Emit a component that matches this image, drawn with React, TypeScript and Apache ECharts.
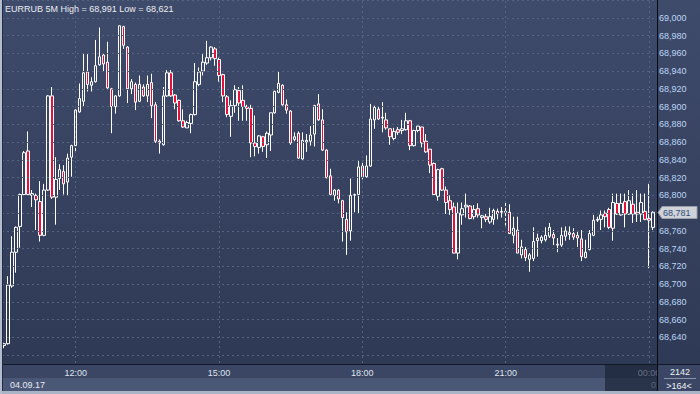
import React, { useEffect, useRef } from 'react';
import * as echarts from 'echarts';

const titleText = 'EURRUB 5M High = 68,991 Low = 68,621';
const dateLabel = '04.09.17';
const nextDateStub = '0';
const barCountLabel = '2142';
const visibleLabel = '>164<';
const startHour = 10;
const startMinute = 30;
const barMinutes = 5;
const hourTicks = ['12:00', '15:00', '18:00', '21:00', '00:00'];
const yMin = 68.6;
const yMax = 69.02;
const yStep = 0.02;

const opens = [
  68.631, 68.633, 68.698, 68.736, 68.765, 68.801, 68.850, 68.800, 68.800, 68.793,
  68.755, 68.806, 68.912, 68.798, 68.819, 68.827, 68.815, 68.843, 68.856, 68.894,
  68.906, 68.939, 68.924, 68.928, 68.947, 68.958, 68.950, 68.920, 68.900, 68.912,
  68.990, 68.967, 68.920, 68.925, 68.906, 68.922, 68.912, 68.927, 68.902, 68.861,
  68.857, 68.912, 68.938, 68.913, 68.907, 68.884, 68.876, 68.881, 68.891, 68.925,
  68.940, 68.949, 68.955, 68.965, 68.953, 68.936, 68.911, 68.889, 68.901, 68.918,
  68.907, 68.900, 68.898, 68.859, 68.854, 68.866, 68.857, 68.868, 68.893, 68.916,
  68.924, 68.902, 68.895, 68.863, 68.870, 68.841, 68.860, 68.861, 68.869, 68.903,
  68.885, 68.851, 68.822, 68.800, 68.806, 68.794, 68.773, 68.760, 68.800, 68.801,
  68.833, 68.821, 68.833, 68.885, 68.897, 68.887, 68.885, 68.875, 68.864, 68.874,
  68.873, 68.874, 68.884, 68.856, 68.873, 68.877, 68.861, 68.852, 68.836, 68.799,
  68.830, 68.806, 68.794, 68.787, 68.735, 68.778, 68.787, 68.788, 68.776, 68.785,
  68.775, 68.776, 68.770, 68.773, 68.782, 68.781, 68.782, 68.781, 68.755, 68.761,
  68.733, 68.739, 68.728, 68.729, 68.749, 68.749, 68.750, 68.754, 68.756, 68.745,
  68.744, 68.754, 68.756, 68.757, 68.755, 68.751, 68.730, 68.739, 68.755, 68.772,
  68.773, 68.780, 68.784, 68.763, 68.791, 68.778, 68.793, 68.779, 68.790, 68.781,
  68.779, 68.782, 68.774, 68.764,
];
const closes = [
  68.633, 68.699, 68.736, 68.764, 68.801, 68.848, 68.801, 68.802, 68.795, 68.755,
  68.806, 68.912, 68.798, 68.818, 68.829, 68.813, 68.842, 68.856, 68.896, 68.909,
  68.938, 68.925, 68.928, 68.946, 68.956, 68.948, 68.921, 68.900, 68.912, 68.991,
  68.969, 68.920, 68.928, 68.905, 68.925, 68.912, 68.925, 68.901, 68.861, 68.859,
  68.912, 68.938, 68.912, 68.904, 68.884, 68.877, 68.882, 68.891, 68.928, 68.939,
  68.950, 68.955, 68.967, 68.954, 68.935, 68.912, 68.891, 68.901, 68.919, 68.904,
  68.900, 68.898, 68.859, 68.855, 68.867, 68.855, 68.870, 68.893, 68.917, 68.926,
  68.902, 68.896, 68.859, 68.866, 68.842, 68.862, 68.862, 68.868, 68.901, 68.885,
  68.851, 68.820, 68.801, 68.806, 68.796, 68.775, 68.759, 68.800, 68.801, 68.832,
  68.821, 68.833, 68.886, 68.899, 68.886, 68.888, 68.876, 68.866, 68.872, 68.871,
  68.875, 68.884, 68.856, 68.873, 68.878, 68.859, 68.849, 68.834, 68.801, 68.829,
  68.806, 68.792, 68.784, 68.735, 68.780, 68.785, 68.789, 68.774, 68.784, 68.778,
  68.777, 68.773, 68.776, 68.783, 68.779, 68.782, 68.781, 68.757, 68.763, 68.735,
  68.742, 68.730, 68.733, 68.748, 68.752, 68.753, 68.755, 68.764, 68.752, 68.744,
  68.755, 68.760, 68.758, 68.753, 68.752, 68.731, 68.736, 68.757, 68.772, 68.773,
  68.778, 68.776, 68.764, 68.792, 68.779, 68.791, 68.779, 68.794, 68.779, 68.779,
  68.792, 68.773, 68.772, 68.781,
];
const lows = [
  68.628, 68.632, 68.696, 68.713, 68.741, 68.800, 68.800, 68.787, 68.761, 68.748,
  68.754, 68.805, 68.796, 68.767, 68.806, 68.801, 68.800, 68.821, 68.850, 68.893,
  68.900, 68.917, 68.917, 68.927, 68.946, 68.939, 68.920, 68.870, 68.892, 68.911,
  68.965, 68.904, 68.914, 68.896, 68.905, 68.911, 68.905, 68.887, 68.859, 68.847,
  68.856, 68.911, 68.911, 68.897, 68.883, 68.876, 68.876, 68.870, 68.890, 68.923,
  68.935, 68.947, 68.952, 68.946, 68.928, 68.905, 68.888, 68.866, 68.893, 68.884,
  68.884, 68.884, 68.843, 68.844, 68.847, 68.849, 68.842, 68.850, 68.892, 68.915,
  68.901, 68.892, 68.857, 68.861, 68.841, 68.840, 68.849, 68.856, 68.855, 68.884,
  68.850, 68.819, 68.800, 68.794, 68.791, 68.748, 68.733, 68.749, 68.781, 68.779,
  68.818, 68.820, 68.832, 68.875, 68.885, 68.871, 68.874, 68.857, 68.862, 68.868,
  68.869, 68.873, 68.851, 68.855, 68.871, 68.854, 68.848, 68.825, 68.800, 68.794,
  68.805, 68.779, 68.778, 68.735, 68.728, 68.767, 68.775, 68.773, 68.773, 68.775,
  68.763, 68.770, 68.768, 68.767, 68.773, 68.775, 68.766, 68.757, 68.746, 68.735,
  68.729, 68.726, 68.714, 68.726, 68.731, 68.746, 68.748, 68.752, 68.744, 68.736,
  68.742, 68.749, 68.750, 68.750, 68.742, 68.726, 68.729, 68.738, 68.754, 68.770,
  68.761, 68.764, 68.762, 68.749, 68.778, 68.777, 68.764, 68.778, 68.769, 68.770,
  68.770, 68.772, 68.718, 68.761,
];
const highs = [
  68.634, 68.709, 68.754, 68.765, 68.802, 68.850, 68.872, 68.806, 68.802, 68.816,
  68.813, 68.913, 68.922, 68.843, 68.835, 68.834, 68.847, 68.857, 68.897, 68.926,
  68.960, 68.959, 68.933, 68.975, 68.989, 68.959, 68.973, 68.921, 68.913, 68.991,
  68.991, 68.968, 68.931, 68.927, 68.935, 68.925, 68.935, 68.937, 68.905, 68.863,
  68.922, 68.941, 68.941, 68.914, 68.908, 68.897, 68.884, 68.892, 68.949, 68.944,
  68.959, 68.974, 68.968, 68.967, 68.955, 68.937, 68.913, 68.907, 68.924, 68.922,
  68.924, 68.902, 68.902, 68.890, 68.868, 68.867, 68.872, 68.893, 68.918, 68.939,
  68.925, 68.908, 68.896, 68.871, 68.872, 68.871, 68.869, 68.878, 68.902, 68.914,
  68.897, 68.852, 68.830, 68.807, 68.807, 68.795, 68.781, 68.819, 68.802, 68.839,
  68.839, 68.845, 68.903, 68.901, 68.900, 68.905, 68.893, 68.875, 68.876, 68.877,
  68.885, 68.893, 68.885, 68.874, 68.878, 68.877, 68.869, 68.852, 68.837, 68.830,
  68.831, 68.810, 68.800, 68.792, 68.792, 68.792, 68.802, 68.789, 68.789, 68.791,
  68.778, 68.779, 68.786, 68.785, 68.785, 68.787, 68.792, 68.790, 68.776, 68.776,
  68.750, 68.742, 68.735, 68.764, 68.757, 68.755, 68.764, 68.769, 68.761, 68.752,
  68.764, 68.765, 68.765, 68.763, 68.760, 68.761, 68.750, 68.761, 68.778, 68.776,
  68.783, 68.783, 68.786, 68.802, 68.802, 68.802, 68.802, 68.806, 68.802, 68.806,
  68.802, 68.802, 68.813, 68.782,
];

const pad2 = (n: number) => String(n).padStart(2, '0');
const times = opens.map((_, i) => {
  const m = (startHour * 60 + startMinute + i * barMinutes) % 1440;
  return pad2(Math.floor(m / 60)) + ':' + pad2(m % 60);
});

const FONT = 'Arial, "Liberation Sans", sans-serif';
const fmt = (v: number) => v.toFixed(3).replace('.', ',');
const lastClose = closes[closes.length - 1];

export default function App() {
  const ref = useRef<HTMLDivElement>(null);
  useEffect(() => {
    if (!ref.current) return;
    const chart = echarts.init(ref.current, undefined, { renderer: 'svg' });
    const gridColor = '#56637f';
    chart.setOption({
      animation: false,
      grid: { left: 2, right: 45, top: -1, bottom: 21, containLabel: false },
      xAxis: {
        type: 'category',
        data: times,
        boundaryGap: true,
        offset: -9,
        z: 20,
        axisLine: { show: false },
        axisTick: { show: false },
        splitLine: { show: false },
        axisLabel: {
          interval: (_i: number, v: string) => hourTicks.includes(v),
          margin: 4,
          color: '#dfe5ee',
          fontSize: 9,
          fontFamily: FONT,
        },
      },
      yAxis: {
        type: 'value',
        position: 'right',
        min: yMin,
        max: yMax,
        interval: yStep,
        offset: 2,
        z: 5,
        axisLine: { show: false },
        axisTick: { show: false },
        splitLine: { show: true, lineStyle: { color: gridColor, type: [2, 3], width: 1 } },
        axisLabel: {
          showMinLabel: false,
          showMaxLabel: false,
          margin: 2,
          color: '#bcd6f5',
          fontSize: 9,
          fontFamily: FONT,
          textShadowColor: 'rgba(0,0,0,0.85)',
          textShadowOffsetX: 1,
          textShadowOffsetY: 1,
          textShadowBlur: 0,
          formatter: (v: number) =>
            v < 68.63 || Math.abs(v - lastClose) < 0.008 ? '' : fmt(v),
        },
      },
      series: [
        {
          type: 'line',
          data: [],
          z: 1,
          silent: true,
          markLine: {
            symbol: 'none',
            silent: true,
            animation: false,
            label: { show: false },
            lineStyle: { color: gridColor, type: [2, 3], width: 1 },
            data: hourTicks.map((t) => ({ xAxis: t })),
          },
        },
        {
          type: 'candlestick',
          z: 3,
          barWidth: 3,
          data: times.map((_, i) => [opens[i], closes[i], lows[i], highs[i]]),
          itemStyle: {
            color: 'transparent',
            color0: '#e8103a',
            borderColor: '#ffffff',
            borderColor0: '#ffffff',
            borderColorDoji: '#ffffff',
            borderWidth: 1,
          },
        },
      ],
    });

    const py = Math.round(chart.convertToPixel({ yAxisIndex: 0 }, lastClose) as number) + 0.5;

    chart.setOption({
      graphic: [
        { type: 'rect', z: 10, silent: true, shape: { x: 0, y: 364, width: 700, height: 1 }, style: { fill: '#121a2a' } },
        { type: 'rect', z: 10, silent: true, shape: { x: 0, y: 365, width: 657, height: 13 }, style: { fill: '#3a4663' } },
        { type: 'rect', z: 10, silent: true, shape: { x: 0, y: 378, width: 657, height: 13 }, style: { fill: '#4a5776' } },
        { type: 'text', z: 25, silent: true, style: { text: nextDateStub, x: 651, y: 385, fill: '#b9c3d3', font: `9px ${FONT}`, verticalAlign: 'middle' } },
        { type: 'rect', z: 30, silent: true, shape: { x: 605, y: 365, width: 52, height: 26 }, style: { fill: 'rgba(20,28,46,0.6)' } },
        { type: 'text', z: 40, silent: true, style: { text: dateLabel, x: 10, y: 384.5, fill: '#e6ebf2', font: `9px ${FONT}`, verticalAlign: 'middle' } },
        { type: 'rect', z: 50, silent: true, shape: { x: 658, y: 365, width: 42, height: 26 }, style: { fill: '#3a4663' } },
        { type: 'text', z: 55, silent: true, style: { text: barCountLabel, x: 680, y: 372, fill: '#eef2f8', font: `9px ${FONT}`, align: 'center', verticalAlign: 'middle' } },
        { type: 'line', z: 55, silent: true, shape: { x1: 664, y1: 378.5, x2: 696, y2: 378.5 }, style: { stroke: '#8894aa', lineWidth: 1 } },
        { type: 'text', z: 55, silent: true, style: { text: visibleLabel, x: 679, y: 385.5, fill: '#eef2f8', font: `9px ${FONT}`, align: 'center', verticalAlign: 'middle' } },
        { type: 'rect', z: 60, silent: true, shape: { x: 0, y: 391, width: 700, height: 3 }, style: { fill: '#a9b5c7' } },
        { type: 'line', z: 60, silent: true, shape: { x1: 657.5, y1: 0, x2: 657.5, y2: 391 }, style: { stroke: '#070a10', lineWidth: 1 } },
        { type: 'rect', z: 60, silent: true, shape: { x: 0, y: 0, width: 2, height: 394 }, style: { fill: '#b3bdcd' } },
        { type: 'rect', z: 60, silent: true, shape: { x: 2, y: 0, width: 1, height: 391 }, style: { fill: '#222c44' } },
        { type: 'text', z: 60, silent: true, style: { text: titleText, x: 5, y: 9, fill: '#e9edf3', font: `9px ${FONT}`, verticalAlign: 'middle' } },
        {
          type: 'polygon', z: 60, silent: true,
          shape: { points: [[658, py], [662, py - 6], [697, py - 6], [697, py + 6], [662, py + 6]] },
          style: { fill: '#cfd2d7', stroke: '#9aa0aa', lineWidth: 1 },
        },
        { type: 'text', z: 61, silent: true, style: { text: fmt(lastClose), x: 663, y: py, fill: '#2d4b7d', font: `9px ${FONT}`, verticalAlign: 'middle' } },
      ],
    });

    return () => chart.dispose();
  }, []);

  return (
    <div
      ref={ref}
      style={{
        position: 'fixed',
        left: 0,
        top: 0,
        width: 700,
        height: 394,
        background: 'linear-gradient(#3f4b6b, #2d3853)',
      }}
    />
  );
}
